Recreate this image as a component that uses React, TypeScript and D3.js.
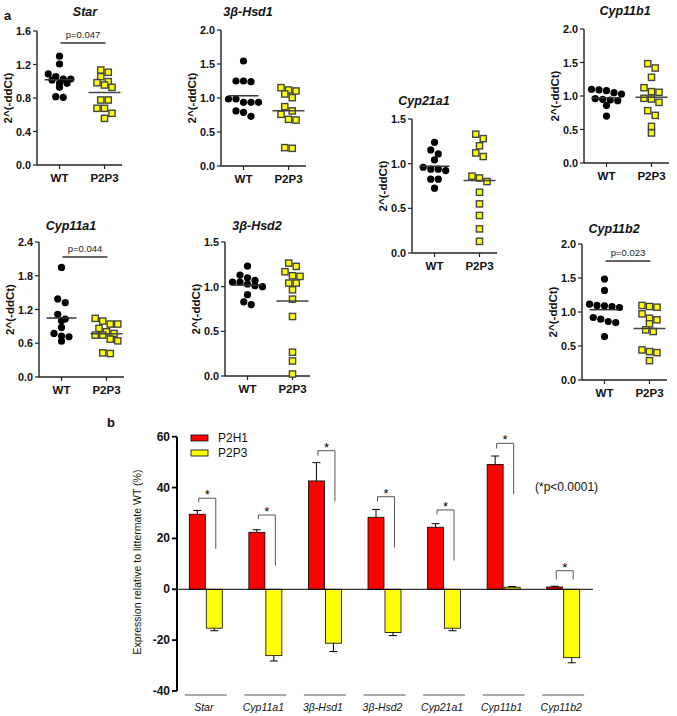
import React from "react";
import * as d3 from "d3";

// ---------- Panel a data ----------
const groups = ["WT", "P2P3"];

const starWT = [1.30, 1.206, 1.087, 1.055, 1.027, 1.027, 1.015, 0.975, 0.975, 0.927, 0.816, 0.808];
const starP2P3 = [1.134, 1.107, 1.055, 0.995, 0.983, 0.955, 0.927, 0.776, 0.776, 0.677, 0.677, 0.617, 0.557];

const hsd1WT = [1.544, 1.25, 1.24, 1.25, 0.985, 0.936, 0.936, 0.936, 0.985, 0.81, 0.73, 0.79];
const hsd1P2P3 = [1.152, 1.103, 1.118, 1.059, 1.005, 0.873, 0.81, 0.76, 0.676, 0.686, 0.26, 0.27];

const cyp21WT = [1.239, 1.109, 1.154, 1.042, 0.96, 0.938, 0.938, 0.923, 0.826, 0.826, 0.726];
const cyp21P2P3 = [1.33, 1.28, 1.2, 1.12, 1.08, 0.86, 0.84, 0.8, 0.68, 0.55, 0.42, 0.27, 0.13];

const cyp11b1WT = [1.10, 1.09, 1.08, 1.05, 1.03, 0.96, 0.95, 0.94, 0.93, 0.86, 0.70];
const cyp11b1P2P3 = [1.418, 1.483, 1.279, 1.124, 1.055, 1.065, 0.955, 0.965, 0.905, 0.781, 0.711, 0.547, 0.448];

const cyp11a1WT = [1.948, 1.322, 1.388, 1.114, 1.03, 1.0, 0.881, 0.774, 0.727, 0.715, 0.637];
const cyp11a1P2P3 = [1.042, 0.995, 0.941, 0.941, 0.864, 0.804, 0.774, 0.745, 0.745, 0.643, 0.673, 0.417, 0.429];

const hsd2WT = [1.23, 1.13, 1.10, 1.07, 1.05, 1.05, 1.03, 1.01, 1.00, 0.91, 0.83, 0.80];
const hsd2P2P3 = [1.264, 1.227, 1.167, 1.115, 1.122, 1.04, 1.04, 0.965, 0.86, 0.666, 0.266, 0.168, 0.022];

const cyp11b2WT = [1.484, 1.317, 1.091, 1.115, 1.066, 1.081, 1.096, 0.894, 0.845, 0.86, 0.919, 0.639];
const cyp11b2P2P3 = [1.071, 1.081, 1.096, 0.973, 0.885, 0.909, 0.826, 0.713, 0.737, 0.442, 0.403, 0.418, 0.285];

// ---------- Panel b data ----------
const categories = ["Star", "Cyp11a1", "3β-Hsd1", "3β-Hsd2", "Cyp21a1", "Cyp11b1", "Cyp11b2"];
const seriesNames = ["P2H1", "P2P3"];
const p2h1 = [29.5, 22.4, 42.6, 28.3, 24.4, 49.1, 0.9];
const p2h1Err = [1.5, 1.0, 7.2, 3.1, 1.4, 3.3, 0.3];
const p2p3 = [-15.3, -26.1, -21.2, -17.0, -15.3, 0.8, -26.9];
const p2p3Err = [1.0, 2.1, 3.3, 1.2, 1.0, 0.3, 2.0];
const bracketTop = [35.8, 29.2, 54.5, 36.4, 31.2, 57.4, 7.3];
const bracketLeft = [34.2, 27.6, 52.5, 34.5, 29.5, 55.4, 3.9];
const bracketRight = [15.9, 9.3, 34.5, 16.4, 11.3, 37.3, 3.9];
const barTicks = [-40, -20, 0, 20, 40, 60];

// ---------- panel configs ----------
const panels = [
  { title: "Star", wt: starWT, ko: starP2P3, yMax: 1.6, step: 0.4, p: "p=0.047" },
  { title: "3β-Hsd1", wt: hsd1WT, ko: hsd1P2P3, yMax: 2.0, step: 0.5, p: "" },
  { title: "Cyp21a1", wt: cyp21WT, ko: cyp21P2P3, yMax: 1.5, step: 0.5, p: "" },
  { title: "Cyp11b1", wt: cyp11b1WT, ko: cyp11b1P2P3, yMax: 2.0, step: 0.5, p: "" },
  { title: "Cyp11a1", wt: cyp11a1WT, ko: cyp11a1P2P3, yMax: 2.4, step: 0.6, p: "p=0.044" },
  { title: "3β-Hsd2", wt: hsd2WT, ko: hsd2P2P3, yMax: 1.5, step: 0.5, p: "" },
  { title: "Cyp11b2", wt: cyp11b2WT, ko: cyp11b2P2P3, yMax: 2.0, step: 0.5, p: "p=0.023" },
];

const layouts = [
  { ax: 37, top: 31, bottom: 165, tx: 85, ty: 16, py: 43 },
  { ax: 221, top: 30, bottom: 166, tx: 248, ty: 16, py: 0 },
  { ax: 412, top: 119, bottom: 253, tx: 424, ty: 105, py: 0 },
  { ax: 584, top: 29, bottom: 163, tx: 625, ty: 15, py: 0 },
  { ax: 39, top: 242, bottom: 377, tx: 71, ty: 230, py: 257 },
  { ax: 225, top: 242, bottom: 376, tx: 257, ty: 230, py: 0 },
  { ax: 582, top: 244, bottom: 380, tx: 614, ty: 233, py: 261 },
];

const FONT = "'Liberation Sans', Arial, Helvetica, sans-serif";

function swarm(values: number[], y: (v: number) => number, cx: number) {
  const pys = values.map((v) => y(v)).sort((a, b) => a - b);
  const rows: number[][] = [];
  for (const py of pys) {
    const last = rows[rows.length - 1];
    if (last && py - last[0] < 6) last.push(py);
    else rows.push([py]);
  }
  const out: { x: number; y: number }[] = [];
  rows.forEach((r) => {
    const n = r.length;
    r.forEach((py, i) => out.push({ x: cx + (i - (n - 1) / 2) * 7.5, y: py }));
  });
  return out;
}

function ScatterPanel({ cfg, lay }: { cfg: any; lay: any }) {
  const y = d3.scaleLinear().domain([0, cfg.yMax]).range([lay.bottom, lay.top]);
  const x = d3.scalePoint().domain(groups).range([lay.ax, lay.ax + 90]).padding(0.5);
  const ticks = d3.range(0, cfg.yMax + 1e-6, cfg.step);
  const wtPts = swarm(cfg.wt, y, x("WT")!);
  const koPts = swarm(cfg.ko, y, x("P2P3")!);
  const wtMean = d3.mean(cfg.wt as number[])!;
  const koMean = d3.mean(cfg.ko as number[])!;
  const mid = (lay.top + lay.bottom) / 2;
  return (
    <g>
      <text x={lay.tx} y={lay.ty} textAnchor="middle" fontFamily={FONT} fontWeight="bold" fontStyle="italic" fontSize={12.5} fill="#111">
        {cfg.title}
      </text>
      <text transform={`translate(${lay.ax - 29},${mid}) rotate(-90)`} textAnchor="middle" dominantBaseline="central" fontFamily={FONT} fontWeight="bold" fontSize={11.5} fill="#111">
        2^(-ddCt)
      </text>
      {/* y axis */}
      <line x1={lay.ax} x2={lay.ax} y1={lay.top} y2={lay.bottom} stroke="#222" strokeWidth={1.4} />
      {ticks.map((t) => (
        <g key={t}>
          <line x1={lay.ax - 4} x2={lay.ax} y1={y(t)} y2={y(t)} stroke="#222" strokeWidth={1.2} />
          <text x={lay.ax - 6} y={y(t)} textAnchor="end" dominantBaseline="central" fontFamily={FONT} fontWeight="bold" fontSize={10.8} fill="#111">
            {t.toFixed(1)}
          </text>
        </g>
      ))}
      {/* x axis */}
      <line x1={lay.ax} x2={lay.ax + 85} y1={lay.bottom} y2={lay.bottom} stroke="#222" strokeWidth={1.4} />
      {groups.map((g) => (
        <g key={g}>
          <line x1={x(g)!} x2={x(g)!} y1={lay.bottom} y2={lay.bottom + 4} stroke="#222" strokeWidth={1.2} />
          <text x={x(g)!} y={lay.bottom + 17} textAnchor="middle" fontFamily={FONT} fontWeight="bold" fontSize={11.5} fill="#111">
            {g}
          </text>
        </g>
      ))}
      {/* points */}
      {wtPts.map((p, i) => (
        <circle key={"w" + i} cx={p.x} cy={p.y} r={3.6} fill="#000" />
      ))}
      {koPts.map((p, i) => (
        <rect key={"k" + i} x={p.x - 3.1} y={p.y - 3.1} width={6.2} height={6.2} fill="#ffff00" stroke="#444" strokeWidth={1.4} />
      ))}
      {/* means */}
      <line x1={x("WT")! - 15} x2={x("WT")! + 15} y1={y(wtMean)} y2={y(wtMean)} stroke="#333" strokeWidth={1.5} />
      <line x1={x("P2P3")! - 16} x2={x("P2P3")! + 16} y1={y(koMean)} y2={y(koMean)} stroke="#444" strokeWidth={1.5} />
      {cfg.p && (
        <g>
          <line x1={x("WT")! + 1} x2={x("P2P3")! + 1} y1={lay.py} y2={lay.py} stroke="#333" strokeWidth={1.3} />
          <text x={(x("WT")! + x("P2P3")!) / 2 + 1} y={lay.py - 5} textAnchor="middle" fontFamily={FONT} fontSize={9.5} fill="#222">
            {cfg.p}
          </text>
        </g>
      )}
    </g>
  );
}

function ItalicLabel({ name, x, y }: { name: string; x: number; y: number }) {
  return (
    <text x={x} y={y} textAnchor="middle" fontFamily={FONT} fontStyle="italic" fontSize={10.5} fill="#111">
      {name}
    </text>
  );
}

function BarPanel() {
  const y = d3.scaleLinear().domain([-40, 60]).range([691, 436.7]);
  const x = d3.scaleBand().domain(categories).range([176, 593]);
  const bw = 16;
  const axX = 177;
  return (
    <g>
      <text transform={`translate(137,562) rotate(-90)`} textAnchor="middle" dominantBaseline="central" fontFamily={FONT} fontSize={10.5} fill="#111">
        Expression relative to littermate WT (%)
      </text>
      {barTicks.map((t) => (
        <g key={t}>
          <line x1={axX - 5} x2={axX} y1={y(t)} y2={y(t)} stroke="#000" strokeWidth={1.8} />
          <text x={axX - 7} y={y(t)} textAnchor="end" dominantBaseline="central" fontFamily={FONT} fontWeight="bold" fontSize={12} fill="#111">
            {t}
          </text>
        </g>
      ))}
      <line x1={axX} x2={axX} y1={y(60)} y2={y(-40)} stroke="#000" strokeWidth={2} />
      {categories.map((c, i) => {
        const cx = x(c)! + x.bandwidth() / 2;
        const rx = cx - bw - 0.5;
        const yx = cx + 0.5;
        const vals = [p2h1[i], p2p3[i]];
        const errs = [p2h1Err[i], p2p3Err[i]];
        const xs = [rx, yx];
        const fills = ["#ff0000", "#ffff00"];
        const legL = rx + bw / 2 + 1.5;
        const legR = yx + bw / 2 + 1.5;
        return (
          <g key={c}>
            {vals.map((v, j) => {
              const e = v + Math.sign(v) * errs[j];
              const bx = xs[j] + bw / 2;
              return (
                <g key={j}>
                  <line x1={bx} x2={bx} y1={y(v)} y2={y(e)} stroke="#000" strokeWidth={1} />
                  <line x1={bx - 4} x2={bx + 4} y1={y(e)} y2={y(e)} stroke="#000" strokeWidth={1} />
                  <rect x={xs[j]} y={Math.min(y(v), y(0))} width={bw} height={Math.abs(y(v) - y(0))} fill={fills[j]} stroke="#000" strokeWidth={0.8} />
                </g>
              );
            })}
            <path
              d={`M${legL},${y(bracketLeft[i])}V${y(bracketTop[i])}H${legR}V${y(bracketRight[i])}`}
              fill="none"
              stroke="#555"
              strokeWidth={1}
            />
            <text x={(legL + legR) / 2} y={y(bracketTop[i]) + 1} textAnchor="middle" fontFamily={FONT} fontSize={13} fill="#000">
              *
            </text>
            <line x1={cx - 21} x2={cx + 21} y1={695} y2={695} stroke="#555" strokeWidth={1} />
            <ItalicLabel name={c} x={cx - 2} y={711} />
          </g>
        );
      })}
      <line x1={axX} x2={593} y1={y(0)} y2={y(0)} stroke="#000" strokeWidth={1} />
      {seriesNames.map((s, j) => (
        <g key={s}>
          <rect x={191} y={435 + j * 15} width={17} height={6} fill={j === 0 ? "#ff0000" : "#ffff00"} stroke="#000" strokeWidth={0.8} />
          <text x={218} y={438 + j * 15} dominantBaseline="central" fontFamily={FONT} fontSize={12} fill="#111">
            {s}
          </text>
        </g>
      ))}
      <text x={535} y={491} fontFamily={FONT} fontSize={12} fill="#111">
        (*p&lt;0.0001)
      </text>
    </g>
  );
}

export default function App() {
  return (
    <svg width={677} height={716} style={{ position: "absolute", left: 0, top: 0, background: "#fff" }}>
      <rect width={677} height={716} fill="#fff" />
      <text x={4} y={20} fontFamily={FONT} fontWeight="bold" fontSize={13} fill="#111">a</text>
      <text x={107} y={427} fontFamily={FONT} fontWeight="bold" fontSize={13} fill="#111">b</text>
      {panels.map((p, i) => (
        <ScatterPanel key={p.title} cfg={p} lay={layouts[i]} />
      ))}
      <BarPanel />
    </svg>
  );
}
